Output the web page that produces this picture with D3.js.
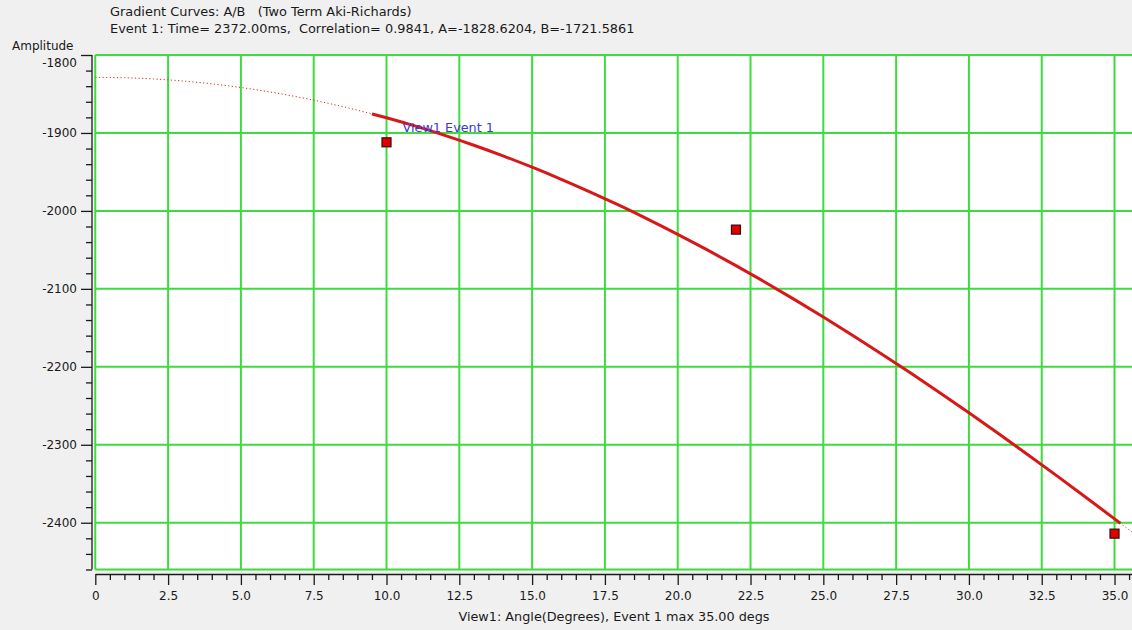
<!DOCTYPE html>
<html>
<head>
<meta charset="utf-8">
<script src="https://cdn.jsdelivr.net/npm/d3@7"></script>
<style>
  html, body { margin: 0; padding: 0; background: #f0f0f0; }
  svg { display: block; font-family: "DejaVu Sans", sans-serif; }
  text { white-space: pre; }
</style>
</head>
<body>
<svg id="chart" width="1132" height="630"></svg>
<script>
// Gradient fit parameters for Event 1 (two term Aki-Richards: A + B·sin²θ)
const eventTime = 2372.00;
const correlation = 0.9841;
const interceptA = -1828.6204;
const gradientB = -1721.5861;

// Fitted gradient curve, tabulated by incidence angle (degrees)
const fitAngles = [0, 1, 2, 3, 4, 5, 6, 7, 8, 9, 9.5, 10, 11, 12, 13, 14, 15, 16, 17, 18,
  19, 20, 21, 22, 23, 24, 25, 26, 27, 28, 29, 30, 31, 32, 33, 34, 35, 35.2, 36];
const fitAmplitudes = [-1828.62, -1829.14, -1830.72, -1833.34, -1837.00, -1841.70, -1847.43,
  -1854.19, -1861.97, -1870.75, -1875.52, -1880.53, -1891.30, -1903.04, -1915.74, -1929.38,
  -1943.95, -1959.42, -1975.78, -1993.02, -2011.10, -2030.01, -2049.72, -2070.21, -2091.46,
  -2113.43, -2136.11, -2159.46, -2183.45, -2208.06, -2233.26, -2259.02, -2285.30, -2312.07,
  -2339.30, -2366.95, -2395.00, -2400.65, -2423.41];

// Picked amplitudes for Event 1
const sampleAngles = [10, 22, 35];
const sampleAmplitudes = [-1912, -2024, -2414];

// Solid part of the curve covers the picked angle range
const solidRange = [9.5, 35.2];

// Axis ticks and labels
const xTicks = [0, 2.5, 5, 7.5, 10, 12.5, 15, 17.5, 20, 22.5, 25, 27.5, 30, 32.5, 35];
const xTickLabels = ["0", "2.5", "5.0", "7.5", "10.0", "12.5", "15.0", "17.5", "20.0",
  "22.5", "25.0", "27.5", "30.0", "32.5", "35.0"];
const yTicks = [-1800, -1900, -2000, -2100, -2200, -2300, -2400];
const yTickLabels = ["-1800", "-1900", "-2000", "-2100", "-2200", "-2300", "-2400"];
const xDomain = [0, 35.6];
const yDomain = [-2460, -1800];

const svg = d3.select("#chart");
const W = 1132, H = 630;
const plot = { left: 95.3, right: 1132, top: 55, bottom: 569.5 };
const ink = "#1a1a1a";

const x = d3.scaleLinear().domain(xDomain).range([plot.left, plot.right]);
const y = d3.scaleLinear().domain(yDomain).range([plot.bottom, plot.top]);

svg.append("rect").attr("width", W).attr("height", H).attr("fill", "#f0f0f0");

// Titles
svg.append("text").attr("x", 110).attr("y", 16)
  .attr("font-size", 12.9).attr("fill", ink)
  .text("Gradient Curves: A/B   (Two Term Aki-Richards)");
svg.append("text").attr("x", 110).attr("y", 33)
  .attr("font-size", 12.9).attr("fill", ink)
  .text(`Event 1: Time= ${eventTime.toFixed(2)}ms,  Correlation= ${correlation.toFixed(4)}, A=${interceptA.toFixed(4)}, B=${gradientB.toFixed(4)}`);
svg.append("text").attr("x", 12).attr("y", 50)
  .attr("font-size", 12).attr("fill", ink)
  .text("Amplitude");

// Plot background
svg.append("defs").append("clipPath").attr("id", "plotClip")
  .append("rect").attr("x", plot.left).attr("y", plot.top - 2)
  .attr("width", plot.right - plot.left).attr("height", plot.bottom - plot.top + 4);

svg.append("rect")
  .attr("x", plot.left).attr("y", plot.top)
  .attr("width", plot.right - plot.left).attr("height", plot.bottom - plot.top)
  .attr("fill", "#ffffff");

// Grid
const gridColor = "#3ddc3d";
const grid = svg.append("g").attr("stroke", gridColor).attr("stroke-width", 2);
grid.selectAll("line.v").data(xTicks).join("line").attr("class", "v")
  .attr("x1", d => x(d)).attr("x2", d => x(d))
  .attr("y1", plot.top).attr("y2", plot.bottom);
grid.selectAll("line.h").data(yTicks.concat([yDomain[0]])).join("line").attr("class", "h")
  .attr("x1", plot.left).attr("x2", plot.right)
  .attr("y1", d => y(d)).attr("y2", d => y(d));

// Curve
const points = fitAngles.map((a, i) => ({ a, v: fitAmplitudes[i] }));
const line = d3.line().x(d => x(d.a)).y(d => y(d.v)).curve(d3.curveMonotoneX);
const curves = svg.append("g").attr("clip-path", "url(#plotClip)");
curves.append("path").datum(points)
  .attr("d", line).attr("fill", "none")
  .attr("stroke", "#d42a2a").attr("stroke-width", 1)
  .attr("stroke-dasharray", "1.2,2.4");
curves.append("path")
  .datum(points.filter(d => d.a >= solidRange[0] && d.a <= solidRange[1]))
  .attr("d", line).attr("fill", "none")
  .attr("stroke", "#d81818").attr("stroke-width", 3);

// Picked samples
const samples = sampleAngles.map((a, i) => ({ a, v: sampleAmplitudes[i] }));
svg.append("g").selectAll("rect").data(samples).join("rect")
  .attr("x", d => x(d.a) - 4.5).attr("y", d => y(d.v) - 4.5)
  .attr("width", 9).attr("height", 9)
  .attr("fill", "#e00000").attr("stroke", "#3a0a0a").attr("stroke-width", 1.2);

// Curve label
svg.append("text")
  .attr("x", x(sampleAngles[0]) + 16).attr("y", 132)
  .attr("font-size", 12.8).attr("fill", "#3a3ad6")
  .text("View1 Event 1");

// Y axis
const yMinor = d3.range(-2460, -1799, 20).filter(v => !yTicks.includes(v));
const yAxisG = svg.append("g").attr("transform", "translate(92,0)");
yAxisG.call(d3.axisLeft(y).tickValues(yMinor).tickSize(6).tickSizeOuter(0).tickFormat(""));
yAxisG.call(g => g.select(".domain").remove());
const yMajorG = svg.append("g").attr("transform", "translate(92,0)");
yMajorG.call(d3.axisLeft(y).tickValues(yTicks).tickSize(11).tickSizeOuter(0).tickPadding(4)
  .tickFormat((d, i) => yTickLabels[i]));
yMajorG.select(".domain").attr("d", `M0,${plot.top}V${plot.bottom}`);
// the top label sits just below its tick, clear of the axis title
yMajorG.selectAll(".tick").filter(d => d === yDomain[1]).select("text").attr("dy", "0.95em");

// X axis
const xMinor = d3.range(0, 35.51, 0.5).filter(v => !xTicks.includes(v));
const xAxisG = svg.append("g").attr("transform", "translate(0,574)");
xAxisG.call(d3.axisBottom(x).tickValues(xMinor).tickSize(6).tickSizeOuter(0).tickFormat(""));
xAxisG.call(g => g.select(".domain").remove());
const xMajorG = svg.append("g").attr("transform", "translate(0,574)");
xMajorG.call(d3.axisBottom(x).tickValues(xTicks).tickSize(11).tickSizeOuter(0).tickPadding(6)
  .tickFormat((d, i) => xTickLabels[i]));

svg.selectAll(".tick line").attr("stroke", ink).attr("stroke-width", 1.3);
svg.selectAll(".domain").attr("stroke", ink).attr("stroke-width", 1.3);
svg.selectAll(".tick text").attr("font-size", 12).attr("fill", ink)
  .attr("font-family", "DejaVu Sans, sans-serif");

svg.append("text").attr("x", 614).attr("y", 621)
  .attr("text-anchor", "middle").attr("font-size", 12.8).attr("fill", ink)
  .text("View1: Angle(Degrees), Event 1 max 35.00 degs");
</script>
</body>
</html>
